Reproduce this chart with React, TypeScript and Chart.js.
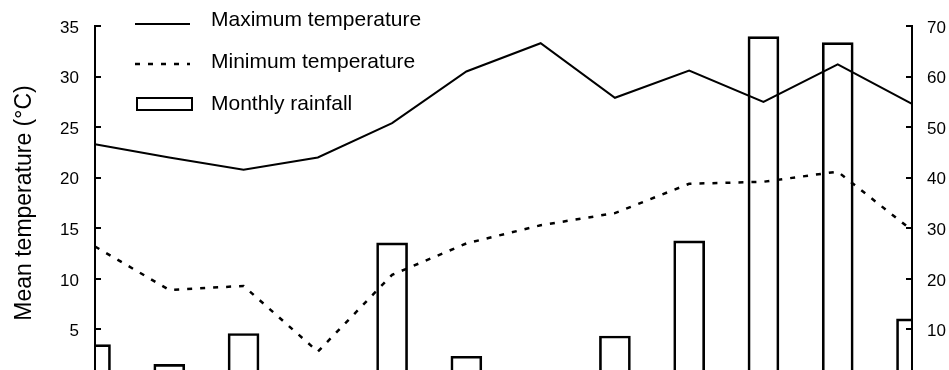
import React, { useEffect, useRef } from "react";
import { Chart, registerables } from "chart.js";

Chart.register(...registerables);

// ---- data ----
const months = ["Jan", "Feb", "Mar", "Apr", "May", "Jun", "Jul", "Aug", "Sep", "Oct", "Nov", "Dec"];
const maxTemperature = [23.3, 22.0, 20.8, 22.0, 25.4, 30.5, 33.3, 27.9, 30.6, 27.5, 31.2, 27.3];
const minTemperature = [13.2, 8.9, 9.3, 2.8, 10.4, 13.5, 15.3, 16.5, 19.4, 19.6, 20.6, 14.8];
const monthlyRainfall = [7.0, 3.1, 9.2, 0, 27.1, 4.7, 0, 8.7, 27.5, 67.9, 66.7, 12.1];
const temperatureTicks = [0, 5, 10, 15, 20, 25, 30, 35];
const rainfallTicks = [0, 10, 20, 30, 40, 50, 60, 70];
const seriesLabels = ["Maximum temperature", "Minimum temperature", "Monthly rainfall"];
const leftAxisTitle = "Mean temperature (°C)";

const FONT = "'Liberation Sans', Arial, Helvetica, sans-serif";

const legendPlugin = {
  id: "stackedLegend",
  afterDraw(chart: any) {
    const ctx = chart.ctx;
    ctx.save();
    const x0 = 135;
    const x1 = 190;
    const tx = 211;
    const textY = [20, 62, 104];
    const sampleY = [24, 64, 104];
    chart.data.datasets.forEach((ds: any, i: number) => {
      const y = sampleY[i];
      ctx.strokeStyle = ds.borderColor;
      ctx.lineWidth = ds.borderWidth;
      if (ds.type === "line") {
        ctx.setLineDash(ds.borderDash || []);
        ctx.beginPath();
        ctx.moveTo(x0, y);
        ctx.lineTo(x1, y);
        ctx.stroke();
      } else {
        ctx.setLineDash([]);
        ctx.fillStyle = "#ffffff";
        ctx.fillRect(x0 + 2, y - 6, 55, 12);
        ctx.strokeRect(x0 + 2, y - 6, 55, 12);
      }
      ctx.setLineDash([]);
      ctx.fillStyle = "#000000";
      ctx.font = `21px ${FONT}`;
      ctx.textAlign = "left";
      ctx.textBaseline = "middle";
      ctx.fillText(ds.label, tx, textY[i]);
    });
    ctx.restore();
  },
};

export default function App() {
  const canvasRef = useRef<HTMLCanvasElement | null>(null);

  useEffect(() => {
    if (!canvasRef.current) return;
    Chart.defaults.font.family = FONT;
    Chart.defaults.color = "#000000";
    const chart = new Chart(canvasRef.current, {
      type: "bar",
      data: {
        labels: months,
        datasets: [
          {
            type: "line",
            label: seriesLabels[0],
            data: maxTemperature,
            borderColor: "#000000",
            borderWidth: 2,
            pointRadius: 0,
            tension: 0,
            fill: false,
            yAxisID: "y",
            order: 1,
          } as any,
          {
            type: "line",
            label: seriesLabels[1],
            data: minTemperature,
            borderColor: "#000000",
            borderWidth: 2.5,
            borderDash: [5, 8],
            pointRadius: 0,
            tension: 0,
            fill: false,
            yAxisID: "y",
            order: 2,
          } as any,
          {
            type: "bar",
            label: seriesLabels[2],
            data: monthlyRainfall,
            backgroundColor: "rgba(255,255,255,0)",
            borderColor: "#000000",
            borderWidth: 2,
            barThickness: 31,
            yAxisID: "y1",
            clip: 0,
            order: 3,
          } as any,
        ],
      },
      options: {
        animation: false,
        responsive: false,
        devicePixelRatio: 1,
        layout: { padding: { top: 26, bottom: 20, left: 0, right: 0 } },
        plugins: {
          legend: { display: false },
          tooltip: { enabled: false },
        },
        scales: {
          x: {
            display: false,
            offset: false,
            grid: { offset: false },
          },
          y: {
            position: "left",
            min: 0,
            max: 35,
            afterBuildTicks: (scale: any) => {
              scale.ticks = temperatureTicks.map((v) => ({ value: v }));
            },
            afterFit: (scale: any) => {
              scale.width = 95;
              scale.paddingTop = 0;
              scale.paddingBottom = 0;
            },
            border: { display: true, color: "#000000", width: 2 },
            grid: {
              drawOnChartArea: false,
              drawTicks: true,
              tickLength: -6,
              color: "#000000",
              lineWidth: 2,
            },
            ticks: {
              padding: 22,
              labelOffset: 2,
              font: { size: 17 },
              color: "#000000",
            },
            title: {
              display: true,
              text: leftAxisTitle,
              font: { size: 23 },
              color: "#000000",
              padding: { top: 11, bottom: 0 },
            },
          },
          y1: {
            position: "right",
            min: 0,
            max: 70,
            afterBuildTicks: (scale: any) => {
              scale.ticks = rainfallTicks.map((v) => ({ value: v }));
            },
            afterFit: (scale: any) => {
              scale.width = 37;
              scale.paddingTop = 0;
              scale.paddingBottom = 0;
            },
            border: { display: true, color: "#000000", width: 2 },
            grid: {
              drawOnChartArea: false,
              drawTicks: true,
              tickLength: -6,
              color: "#000000",
              lineWidth: 2,
            },
            ticks: {
              padding: 21,
              labelOffset: 2,
              font: { size: 17 },
              color: "#000000",
            },
          },
        },
      } as any,
      plugins: [legendPlugin],
    });
    return () => chart.destroy();
  }, []);

  return (
    <div
      style={{
        position: "fixed",
        left: 0,
        top: 0,
        width: 949,
        height: 370,
        overflow: "hidden",
        background: "#ffffff",
      }}
    >
      <canvas ref={canvasRef} width={949} height={400} style={{ display: "block" }} />
    </div>
  );
}
